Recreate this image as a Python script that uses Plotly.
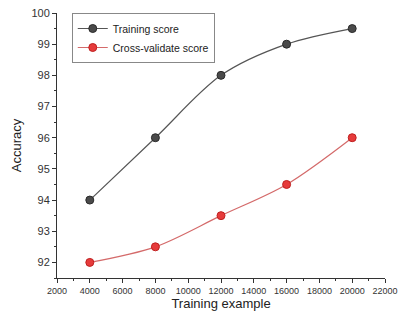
import plotly.graph_objects as go

train_x = [4000, 8000, 12000, 16000, 20000]
train_score = [94.0, 96.0, 98.0, 99.0, 99.5]
cv_score = [92.0, 92.5, 93.5, 94.5, 96.0]

fig = go.Figure()
fig.add_trace(go.Scatter(
    x=train_x, y=train_score, name="Training score", mode="lines+markers",
    line=dict(color="#555555", width=1.2, shape="spline", smoothing=0.9),
    marker=dict(size=8, color="#4a4a4a", line=dict(color="#2a2a2a", width=1)),
))
fig.add_trace(go.Scatter(
    x=train_x, y=cv_score, name="Cross-validate score", mode="lines+markers",
    line=dict(color="#d46a6a", width=1.2, shape="spline", smoothing=0.9),
    marker=dict(size=8, color="#e63b3b", line=dict(color="#c02020", width=1)),
))

font = "Liberation Sans, Arial, sans-serif"
fig.update_layout(
    width=400, height=320,
    margin=dict(l=57, r=15, t=13, b=42),
    paper_bgcolor="white", plot_bgcolor="white",
    font=dict(family=font, color="#222222"),
    showlegend=True,
    legend=dict(x=0.045, y=1.0, xanchor="left", yanchor="top",
                bordercolor="#888888", borderwidth=1, bgcolor="white",
                font=dict(size=10.5, family=font), tracegroupgap=0,
                itemwidth=30),
    xaxis=dict(
        range=[2000, 22000], tickmode="linear", tick0=2000, dtick=2000,
        tickformat="d", automargin=False,
        showgrid=False, zeroline=False, showline=True, linecolor="#333333", linewidth=1,
        ticks="outside", ticklen=4, tickcolor="#333333",
        minor=dict(ticks="outside", ticklen=2, dtick=1000, tickcolor="#333333"),
        tickfont=dict(size=9, family=font, color="#333333"),
        title=dict(text="Training example", font=dict(size=13, family=font), standoff=3),
    ),
    yaxis=dict(
        range=[91.5, 100], tickmode="linear", tick0=92, dtick=1, automargin=False,
        showgrid=False, zeroline=False, showline=True, linecolor="#333333", linewidth=1,
        ticks="outside", ticklen=4, tickcolor="#333333",
        minor=dict(ticks="outside", ticklen=2, dtick=0.5, tickcolor="#333333"),
        tickfont=dict(size=11, family=font, color="#333333"),
        title=dict(text="Accuracy", font=dict(size=13, family=font), standoff=6),
    ),
)

fig.write_html("out.html", config={"displayModeBar": False},
               post_script="document.body.style.margin='0';")
